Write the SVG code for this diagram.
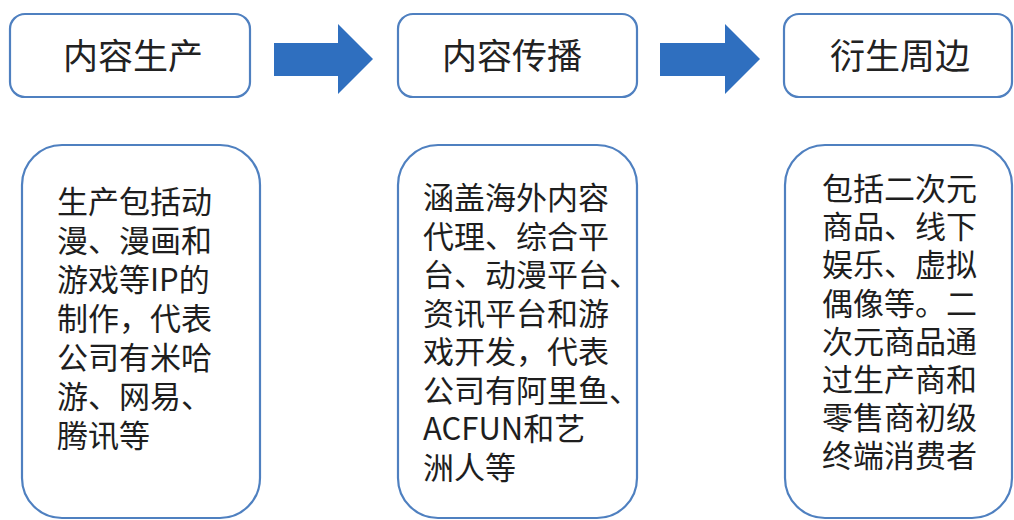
<svg xmlns="http://www.w3.org/2000/svg" width="1014" height="520" viewBox="0 0 1014 520">
  <style>
    .box { fill: #ffffff; stroke: #4f80c0; stroke-width: 2.2; }
    .title { font-family: "Noto Sans CJK SC", "Noto Sans", sans-serif; font-size: 35px; fill: #222222; text-anchor: middle; }
    .body { font-family: "Noto Sans CJK SC", "Noto Sans", sans-serif; font-size: 31px; fill: #1e1e1e; }
    .arrow { fill: #2f6fbf; }
  </style>
  <rect x="0" y="0" width="1014" height="520" fill="#ffffff"/>

  <g id="connectors">
    <polygon class="arrow" points="274,43 338,43 338,24 373,59 338,94 338,76 274,76"/>
    <polygon class="arrow" points="660,43 725,43 725,24 760,59 725,94 725,76 660,76"/>
  </g>

  <g id="node-content-production">
    <rect class="box" x="10" y="14" width="240" height="83" rx="15" ry="15"/>
    <text class="title" x="133" y="69">内容生产</text>
  </g>
  <g id="node-content-distribution">
    <rect class="box" x="398" y="14" width="239" height="83" rx="15" ry="15"/>
    <text class="title" x="512" y="69">内容传播</text>
  </g>
  <g id="node-derivatives">
    <rect class="box" x="784" y="14" width="228" height="83" rx="15" ry="15"/>
    <text class="title" x="900" y="69">衍生周边</text>
  </g>

  <g id="detail-production">
    <rect class="box" x="22" y="145" width="238" height="373" rx="40" ry="40"/>
    <text class="body">
      <tspan x="57" y="212.5">生产包括动</tspan>
      <tspan x="57" y="251.5">漫、漫画和</tspan>
      <tspan x="57" y="290.5">游戏等IP的</tspan>
      <tspan x="57" y="329.5">制作，代表</tspan>
      <tspan x="57" y="368.5">公司有米哈</tspan>
      <tspan x="57" y="407.5">游、网易、</tspan>
      <tspan x="57" y="446.5">腾讯等</tspan>
    </text>
  </g>
  <g id="detail-distribution">
    <rect class="box" x="398" y="145" width="239" height="373" rx="40" ry="40"/>
    <text class="body">
      <tspan x="423" y="209">涵盖海外内容</tspan>
      <tspan x="423" y="247.5">代理、综合平</tspan>
      <tspan x="423" y="286">台、动漫平台、</tspan>
      <tspan x="423" y="324.5">资讯平台和游</tspan>
      <tspan x="423" y="363">戏开发，代表</tspan>
      <tspan x="423" y="401.5">公司有阿里鱼、</tspan>
      <tspan x="423" y="440">ACFUN和艺</tspan>
      <tspan x="423" y="478.5">洲人等</tspan>
    </text>
  </g>
  <g id="detail-derivatives">
    <rect class="box" x="785" y="145" width="227" height="373" rx="40" ry="40"/>
    <text class="body">
      <tspan x="822" y="200">包括二次元</tspan>
      <tspan x="822" y="238">商品、线下</tspan>
      <tspan x="822" y="276">娱乐、虚拟</tspan>
      <tspan x="822" y="314.5">偶像等。二</tspan>
      <tspan x="822" y="352.5">次元商品通</tspan>
      <tspan x="822" y="390.5">过生产商和</tspan>
      <tspan x="822" y="428.5">零售商初级</tspan>
      <tspan x="822" y="467">终端消费者</tspan>
    </text>
  </g>
</svg>
